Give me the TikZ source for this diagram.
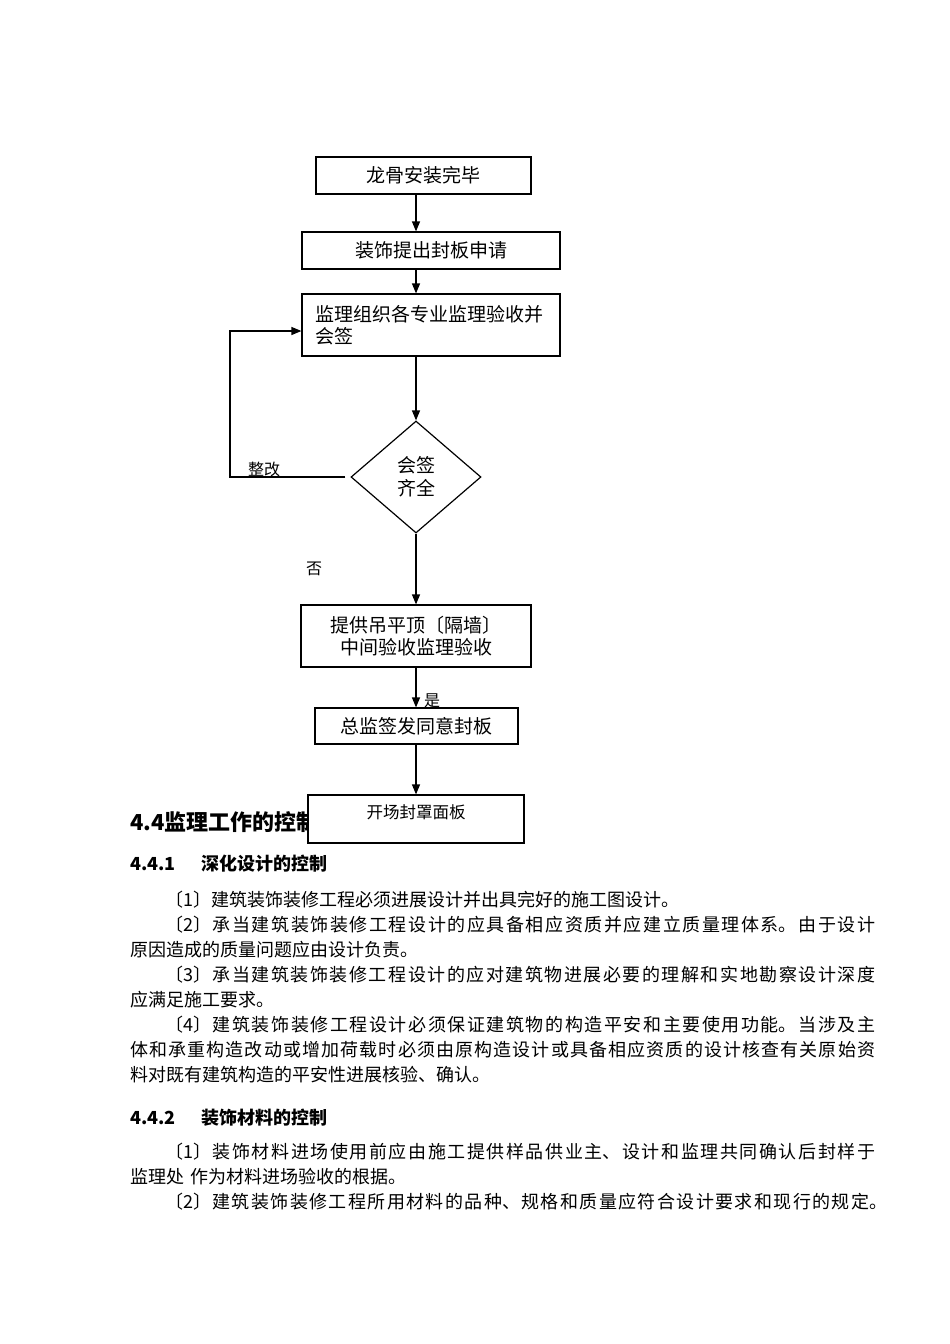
\documentclass[tikz,border=0pt]{standalone}
\usepackage{fontspec}
\setmainfont{Noto Sans CJK SC}
\usetikzlibrary{shapes.geometric,arrows.meta}
\XeTeXlinebreaklocale "zh"
\XeTeXlinebreakskip=0pt plus 3pt
\tikzset{
 box/.style={draw,line width=1.2pt,fill=white,inner sep=0pt,font=\fontsize{19}{22}\selectfont,align=center},
 arr/.style={line width=1.2pt,-{Triangle[length=10pt,width=8pt]}},
 lab/.style={inner sep=0pt,font=\fontsize{16}{18}\selectfont},
 head/.style={anchor=west,inner sep=0pt,font=\fontsize{18}{22}\selectfont\bfseries},
 body/.style={inner sep=0pt,anchor=north west,text width=745pt,align=justify,font=\fontsize{18}{25}\selectfont},
}
\begin{document}
\begin{tikzpicture}[x=1pt,y=-1pt]
\fill[white] (0,0) rectangle (950,1344);
% section heading (partly hidden by the last box)
\node[anchor=west,inner sep=0pt,font=\fontsize{22}{26}\selectfont\bfseries] (h44) at (130,822) {4.4监理工作的控制};
% flowchart
\node[box,minimum width=215pt,minimum height=37pt] (b1) at (423.5,175.5) {龙骨安装完毕};
\node[box,minimum width=258pt,minimum height=37pt] (b2) at (431,250.5) {装饰提出封板申请};
\node[box,minimum width=258pt,minimum height=62pt,text width=232pt,align=left] (b3) at (431,325) {监理组织各专业监理验收并\\会签};
\node[draw,diamond,line width=1.2pt,fill=white,minimum width=130pt,minimum height=112pt,inner sep=0pt,align=center,font=\fontsize{19}{23}\selectfont] (dia) at (416,477) {会签\\齐全};
\node[lab] (zg) at (264,469) {整改};
\node[lab] (fou) at (314,569) {否};
\node[lab] (shi) at (432,701) {是};
\node[box,minimum width=230pt,minimum height=62pt] (b4) at (416,636) {提供吊平顶〔隔墙〕\\中间验收监理验收};
\node[box,minimum width=203pt,minimum height=36pt] (b5) at (416.5,726) {总监签发同意封板};
\node[box,minimum width=216pt,minimum height=48pt,font=\fontsize{16.5}{20}\selectfont,text height=14.5pt,text depth=16pt] (b6) at (416,819) {开场封罩面板};
\draw[arr] (b1.south -| dia.north) -- (b2.north -| dia.north);
\draw[arr] (b2.south -| dia.north) -- (b3.north -| dia.north);
\draw[arr] (b3.south -| dia.north) -- (dia.north);
\draw[arr] (dia.south) -- (b4.north -| dia.south);
\draw[arr] (b4.south -| dia.south) -- (b5.north -| dia.south);
\draw[arr] (b5.south -| dia.south) -- (b6.north -| dia.south);
\coordinate (lp) at ([xshift=-5pt]dia.west);
\coordinate (lc) at (230,477);
\draw[arr] (lp) -- (lc) |- ([yshift=-6pt]b3.west);
% text
\node[head] (h441) at (130,864) {4.4.1\hspace{26pt}深化设计的控制};
\node[body] (p1) at (130,891) {%
\hspace*{35pt}〔1〕建筑装饰装修工程必须进展设计并出具完好的施工图设计。\par
\hspace*{35pt}〔2〕承当建筑装饰装修工程设计的应具备相应资质并应建立质量理体系。由于设计\linebreak
原因造成的质量问题应由设计负责。\par
\hspace*{35pt}〔3〕承当建筑装饰装修工程设计的应对建筑物进展必要的理解和实地勘察设计深度\linebreak
应满足施工要求。\par
\hspace*{35pt}〔4〕建筑装饰装修工程设计必须保证建筑物的构造平安和主要使用功能。当涉及主\linebreak
体和承重构造改动或增加荷载时必须由原构造设计或具备相应资质的设计核查有关原始资\linebreak
料对既有建筑构造的平安性进展核验、确认。\par};
\node[head] (h442) at (130,1118) {4.4.2\hspace{26pt}装饰材料的控制};
\node[body] (p2) at (130,1143) {%
\hspace*{35pt}〔1〕装饰材料进场使用前应由施工提供样品供业主、设计和监理共同确认后封样于\linebreak
监理处\hspace{6pt}作为材料进场验收的根据。\par
\hspace*{35pt}〔2〕建筑装饰装修工程所用材料的品种、规格和质量应符合设计要求和现行的规定。\hspace*{-12pt}{\parfillskip=0pt\par}};
\end{tikzpicture}
\end{document}
